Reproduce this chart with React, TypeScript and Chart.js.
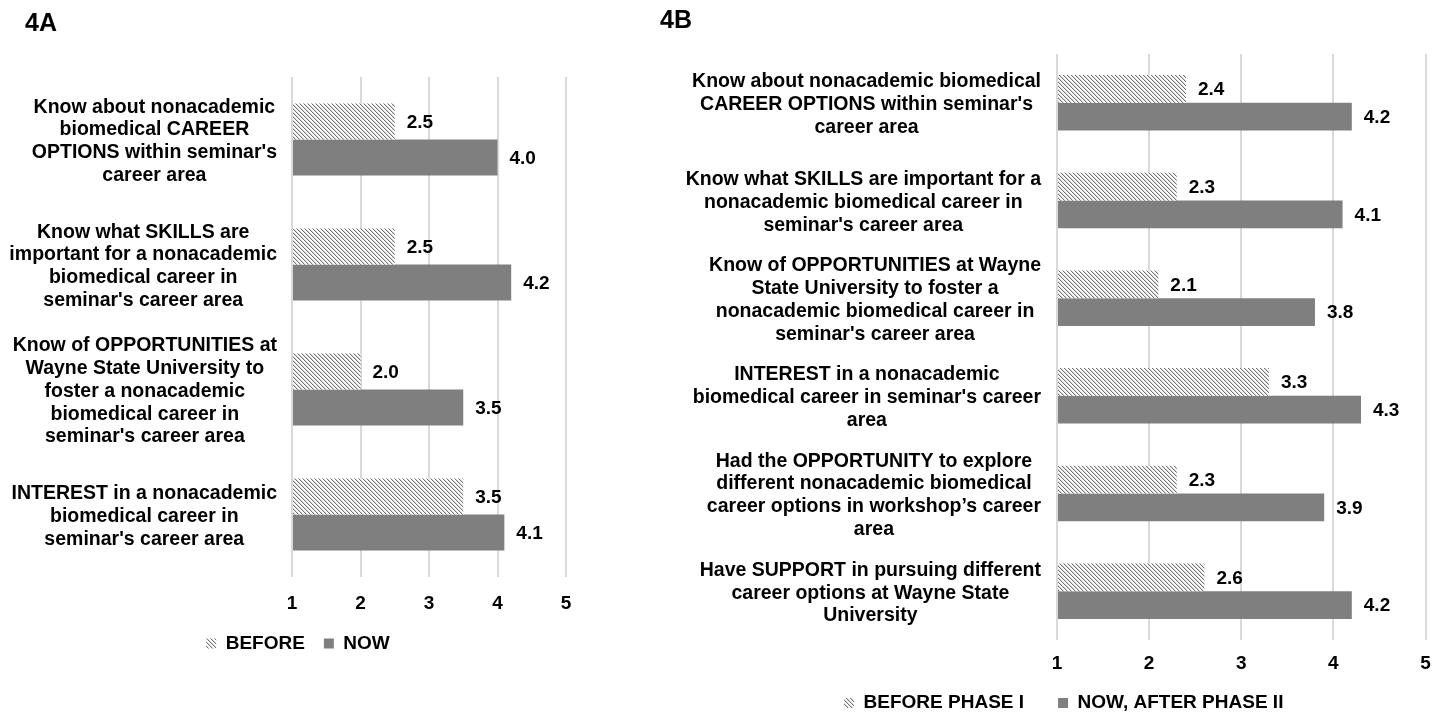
import React, { useEffect, useRef } from "react";
import { Chart, registerables } from "chart.js";

Chart.register(...registerables);

const FONT = "'Liberation Sans', Arial, Helvetica, sans-serif";

// ---- Panel 4A: seminar survey ----
const seminarCategories: string[][] = [
  ["Know about nonacademic", "biomedical CAREER", "OPTIONS within seminar's", "career area"],
  ["Know what SKILLS are", "important for a nonacademic", "biomedical career in", "seminar's career area"],
  ["Know of OPPORTUNITIES at", "Wayne State University to", "foster a nonacademic", "biomedical career in", "seminar's career area"],
  ["INTEREST in a nonacademic", "biomedical career in", "seminar's career area"],
];
const seminarBefore = [2.5, 2.5, 2.0, 3.5];
const seminarNow = [4.0, 4.2, 3.5, 4.1];
const seminarSeries = ["BEFORE", "NOW"];

// ---- Panel 4B: workshop survey ----
const workshopCategories: string[][] = [
  ["Know about nonacademic biomedical", "CAREER OPTIONS within seminar's", "career area"],
  ["Know what SKILLS are important for a", "nonacademic biomedical career in", "seminar's career area"],
  ["Know of OPPORTUNITIES at Wayne", "State University to foster a", "nonacademic biomedical career in", "seminar's career area"],
  ["INTEREST in a nonacademic", "biomedical career in seminar's career", "area"],
  ["Had the OPPORTUNITY to explore", "different nonacademic biomedical", "career options in workshop\u2019s career", "area"],
  ["Have SUPPORT in pursuing different", "career options at Wayne State", "University"],
];
const workshopBefore = [2.4, 2.3, 2.1, 3.3, 2.3, 2.6];
const workshopNow = [4.2, 4.1, 3.8, 4.3, 3.9, 4.2];
const workshopSeries = ["BEFORE PHASE I", "NOW, AFTER PHASE II"];

// Rating scale shown on the value axis
const ratingTicks = [1, 2, 3, 4, 5];

Chart.defaults.font.family = FONT;
Chart.defaults.color = "#000";

// Diagonal "\" hatching used for the "before" bars
function makeHatch(): CanvasPattern | string {
  const tile = document.createElement("canvas");
  tile.width = 4;
  tile.height = 4;
  const c = tile.getContext("2d");
  if (!c) return "#bbbbbb";
  const img = c.createImageData(4, 4);
  for (let i = 0; i < 16; i++) {
    img.data[i * 4] = 255;
    img.data[i * 4 + 1] = 255;
    img.data[i * 4 + 2] = 255;
    img.data[i * 4 + 3] = 255;
  }
  const put = (x: number, y: number, v: number) => {
    const k = (y * 4 + x) * 4;
    img.data[k] = v;
    img.data[k + 1] = v;
    img.data[k + 2] = v;
  };
  for (let y = 0; y < 4; y++) {
    put(y, y, 115);
    put((y + 1) % 4, y, 215);
  }
  c.putImageData(img, 0, 0);
  return c.createPattern(tile, "repeat") || "#bbbbbb";
}

// Writes each bar's value just past its end
const valueLabels = {
  id: "valueLabels",
  afterDatasetsDraw(chart: any) {
    const ctx = chart.ctx as CanvasRenderingContext2D;
    ctx.save();
    ctx.font = `bold 19px ${FONT}`;
    ctx.fillStyle = "#000";
    ctx.textAlign = "left";
    ctx.textBaseline = "middle";
    chart.data.datasets.forEach((ds: any, i: number) => {
      chart.getDatasetMeta(i).data.forEach((el: any, j: number) => {
        ctx.fillText(Number(ds.data[j]).toFixed(1), el.x + 12, el.y + 1);
      });
    });
    ctx.restore();
  },
};

// Category labels: each multi-line block sits flush against the plot,
// with its lines centred within the block
const categoryBlocks = {
  id: "categoryBlocks",
  afterDraw(chart: any, _args: any, opts: any) {
    const ctx = chart.ctx as CanvasRenderingContext2D;
    const yScale = chart.scales.y;
    const size = opts.size || 19.5;
    const lineH = opts.lineHeight || 22.8;
    const gap = opts.gap || 16;
    const right = chart.chartArea.left - gap;
    ctx.save();
    ctx.font = `bold ${size}px ${FONT}`;
    ctx.fillStyle = "#000";
    ctx.textAlign = "center";
    ctx.textBaseline = "middle";
    (chart.data.labels as string[][]).forEach((lines, i) => {
      const blockW = Math.max(...lines.map((l) => ctx.measureText(l).width));
      const cx = right - blockW / 2;
      const cy = yScale.getPixelForTick(i) + (opts.offset || 0);
      const top = cy - ((lines.length - 1) * lineH) / 2;
      lines.forEach((l, k) => ctx.fillText(l, cx, top + k * lineH));
    });
    ctx.restore();
  },
};

// Nudges the legend block after layout
const legendShift = {
  id: "legendShift",
  afterLayout(chart: any, _args: any, opts: any) {
    const lg = chart.legend;
    if (!lg || !opts) return;
    const dx = opts.dx || 0;
    const dy = opts.dy || 0;
    lg.left += dx;
    lg.right += dx;
    lg.top += dy;
    lg.bottom += dy;
  },
};

type PanelProps = {
  categories: string[][];
  before: number[];
  now: number[];
  names: string[];
  left: number;
  width: number;
  height: number;
  pad: { left: number; right: number; top: number; bottom: number };
  yWidth: number;
  catPct: number;
  legendPad: number;
  legendDx: number;
  legendDy: number;
  xHeight: number;
  xTickPad: number;
  labelGap: number;
};

function Panel(p: PanelProps) {
  const ref = useRef<HTMLCanvasElement>(null);
  useEffect(() => {
    if (!ref.current) return;
    const hatch = makeHatch();
    const chart = new Chart(ref.current, {
      type: "bar",
      data: {
        labels: p.categories as any,
        datasets: [
          {
            label: p.names[0],
            data: p.before,
            backgroundColor: hatch as any,
            borderWidth: 0,
            base: ratingTicks[0],
          },
          {
            label: p.names[1],
            data: p.now,
            backgroundColor: "#7f7f7f",
            borderWidth: 0,
            base: ratingTicks[0],
          },
        ],
      },
      options: {
        indexAxis: "y",
        responsive: false,
        animation: false,
        layout: { padding: p.pad },
        datasets: { bar: { categoryPercentage: p.catPct, barPercentage: 1 } },
        scales: {
          x: {
            min: ratingTicks[0],
            max: ratingTicks[ratingTicks.length - 1],
            ticks: {
              stepSize: 1,
              padding: p.xTickPad,
              color: "#000",
              font: { size: 19, weight: "bold" },
            },
            grid: { color: "#d9d9d9", lineWidth: 2, drawTicks: false },
            border: { display: false },
            afterFit: (s: any) => {
              s.height = p.xHeight;
            },
          },
          y: {
            ticks: { display: false, autoSkip: false },
            grid: { display: false, drawTicks: false },
            border: { display: false },
            afterFit: (s: any) => {
              s.width = p.yWidth;
            },
          },
        },
        plugins: {
          legend: {
            position: "bottom",
            labels: {
              boxWidth: 10,
              boxHeight: 10,
              padding: p.legendPad,
              color: "#000",
              font: { size: 19, weight: "bold" },
            },
          },
          legendShift: { dx: p.legendDx, dy: p.legendDy },
          categoryBlocks: { size: 19.5, lineHeight: 22.8, gap: p.labelGap, offset: 2 },
          tooltip: { enabled: false },
        },
      } as any,
      plugins: [valueLabels, categoryBlocks, legendShift],
    });
    return () => chart.destroy();
  }, []);
  return (
    <canvas
      ref={ref}
      width={p.width}
      height={p.height}
      style={{ position: "absolute", left: p.left, top: 0, width: p.width, height: p.height }}
    />
  );
}

const letterStyle: React.CSSProperties = {
  position: "absolute",
  fontFamily: FONT,
  fontWeight: "bold",
  fontSize: 25,
  lineHeight: "26px",
  color: "#000",
};

export default function App() {
  return (
    <div
      style={{
        position: "absolute",
        left: 0,
        top: 0,
        width: 1444,
        height: 715,
        overflow: "hidden",
        background: "#fff",
      }}
    >
      <Panel
        categories={seminarCategories}
        before={seminarBefore}
        now={seminarNow}
        names={seminarSeries}
        left={0}
        width={600}
        height={663}
        pad={{ left: 6, right: 34, top: 77, bottom: 0 }}
        yWidth={286}
        catPct={0.576}
        legendPad={19}
        legendDx={12}
        legendDy={0}
        xHeight={38}
        xTickPad={15}
        labelGap={15}
      />
      <Panel
        categories={workshopCategories}
        before={workshopBefore}
        now={workshopNow}
        names={workshopSeries}
        left={640}
        width={804}
        height={738}
        pad={{ left: 40, right: 18.5, top: 54, bottom: 0 }}
        yWidth={377}
        catPct={0.568}
        legendPad={34}
        legendDx={11}
        legendDy={-15.5}
        xHeight={35}
        xTickPad={12}
        labelGap={16}
      />
      <div style={{ ...letterStyle, left: 25, top: 9 }}>4A</div>
      <div style={{ ...letterStyle, left: 660, top: 6 }}>4B</div>
    </div>
  );
}
